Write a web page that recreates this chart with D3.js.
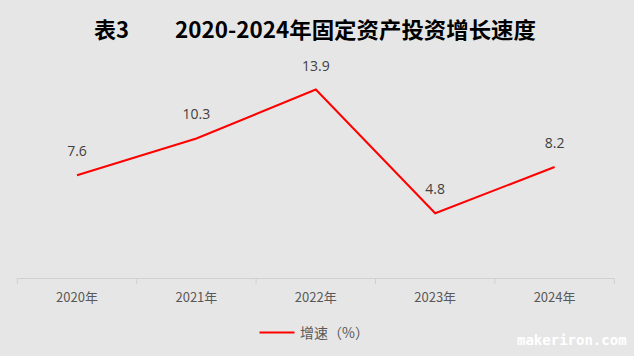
<!DOCTYPE html>
<html><head><meta charset="utf-8">
<script src="https://cdn.jsdelivr.net/npm/d3@7"></script>
<style>
html,body{margin:0;padding:0;background:#e7e6e6;}
svg{display:block;}
</style></head>
<body>
<svg id="chart" width="634" height="356"></svg>
<script>
const categories = ["2020年","2021年","2022年","2023年","2024年"];
const growth = [7.6, 10.3, 13.9, 4.8, 8.2];
const seriesName = "增速（%）";
const titlePrefix = "表3";
const titleText = "2020-2024年固定资产投资增长速度";

const W = 634, H = 356;
const svg = d3.select("#chart");
svg.append("rect").attr("width", W).attr("height", H).attr("fill", "#e7e6e6");

const x = d3.scaleBand().domain(categories).range([17.3, 614.3]).padding(0);
const y = d3.scaleLinear().domain([0, 16]).range([278.5, 61]);

// title
const tf = "'Noto Sans CJK SC', sans-serif";
svg.append("text").attr("x", 94).attr("y", 38).attr("font-family", tf)
  .attr("font-size", 22).attr("font-weight", "bold").attr("fill", "#000").text(titlePrefix);
svg.append("text").attr("x", 175).attr("y", 38).attr("font-family", tf)
  .attr("font-size", 22).attr("font-weight", "bold").attr("fill", "#000")
  .attr("textLength", 361).attr("lengthAdjust", "spacingAndGlyphs").text(titleText);

// x axis
const xAxis = d3.axisBottom(x).tickSize(0).tickPadding(0).tickFormat(() => "");
const gx = svg.append("g").attr("transform", `translate(0,${y(0)})`).call(xAxis);
gx.select(".domain").attr("stroke", "#d0d0d0").attr("stroke-width", 1)
  .attr("d", `M${x.range()[0]},0H${x.range()[1]}`);
// tick marks at band boundaries
const bounds = categories.map(c => x(c)).concat([x.range()[1]]);
gx.selectAll("line.bt").data(bounds).join("line").attr("class", "bt")
  .attr("x1", d => d).attr("x2", d => d).attr("y1", 0).attr("y2", 5.5)
  .attr("stroke", "#d0d0d0").attr("stroke-width", 1);
gx.selectAll("text.cl").data(categories).join("text").attr("class", "cl")
  .attr("x", d => x(d) + x.bandwidth() / 2).attr("y", 23)
  .attr("text-anchor", "middle").attr("font-family", tf).attr("font-size", 13)
  .attr("fill", "#595959").text(d => d);

// line
const cx = d => x(d) + x.bandwidth() / 2;
const line = d3.line().x((d, i) => cx(categories[i])).y(d => y(d));
svg.append("path").datum(growth).attr("d", line).attr("fill", "none")
  .attr("stroke", "#ff0000").attr("stroke-width", 2).attr("stroke-linejoin", "miter");

// data labels
svg.selectAll("text.dl").data(growth).join("text").attr("class", "dl")
  .attr("x", (d, i) => cx(categories[i])).attr("y", d => y(d) - 19)
  .attr("text-anchor", "middle").attr("font-family", "'Open Sans', sans-serif")
  .attr("font-size", 14).attr("fill", "#404040").text(d => d.toFixed(1));

// legend
svg.append("line").attr("x1", 259.5).attr("x2", 294.5).attr("y1", 332.5).attr("y2", 332.5)
  .attr("stroke", "#ff0000").attr("stroke-width", 2);
svg.append("text").attr("x", 300).attr("y", 338).attr("font-family", tf)
  .attr("font-size", 14).attr("fill", "#595959").text(seriesName);

// watermark
svg.append("text").attr("x", 517).attr("y", 345).attr("font-family", "'DejaVu Sans Mono', monospace")
  .attr("font-size", 14).attr("font-weight", "bold").attr("fill", "#ffffff").text("makeriron.com");
</script>
</body></html>
